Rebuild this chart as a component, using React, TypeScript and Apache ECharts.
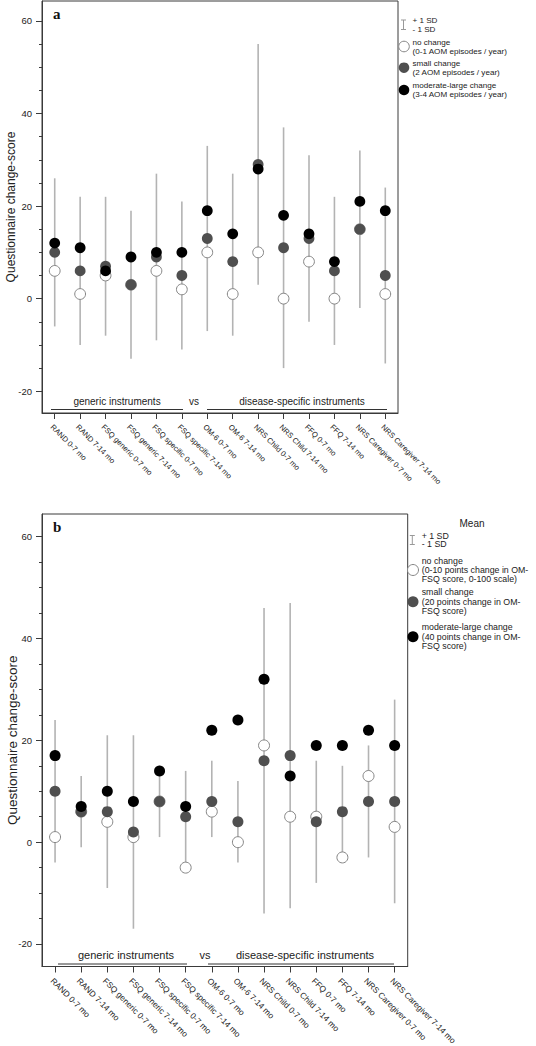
import React, { useEffect, useRef } from "react";
import * as echarts from "echarts";

const categories = [
  "RAND 0-7 mo",
  "RAND 7-14 mo",
  "FSQ generic 0-7 mo",
  "FSQ generic 7-14 mo",
  "FSQ specific 0-7 mo",
  "FSQ specific 7-14 mo",
  "OM-6 0-7 mo",
  "OM-6 7-14 mo",
  "NRS Child 0-7 mo",
  "NRS Child 7-14 mo",
  "FFQ 0-7 mo",
  "FFQ 7-14 mo",
  "NRS Caregiver 0-7 mo",
  "NRS Caregiver 7-14 mo",
];

const majorTicks = [-20, 0, 20, 40, 60];
const minorTicks = [-15, -10, -5, 5, 10, 15, 25, 30, 35, 45, 50, 55];

// Panel a
const noChangeA = [6, 1, 5, 3, 6, 2, 10, 1, 10, 0, 8, 0, 15, 1];
const smallA = [10, 6, 7, 3, 9, 5, 13, 8, 29, 11, 13, 6, 15, 5];
const largeA = [12, 11, 6, 9, 10, 10, 19, 14, 28, 18, 14, 8, 21, 19];
const sdHighA = [26, 22, 22, 19, 27, 21, 33, 27, 55, 37, 31, 22, 32, 24];
const sdLowA = [-6, -10, -8, -13, -9, -11, -7, -8, 3, -15, -5, -10, -2, -14];

// Panel b
const noChangeB = [1, 6, 4, 1, 8, -5, 6, 0, 19, 5, 5, -3, 13, 3];
const smallB = [10, 6, 6, 2, 8, 5, 8, 4, 16, 17, 4, 6, 8, 8];
const largeB = [17, 7, 10, 8, 14, 7, 22, 24, 32, 13, 19, 19, 22, 19];
const sdHighB = [24, 13, 21, 21, 15, 14, 16, 12, 46, 47, 16, 15, 19, 28];
const sdLowB = [-4, -1, -9, -17, 1, -4, 1, -4, -14, -13, -8, -3, -3, -12];

const legendA = [
  ["no change", "(0-1 AOM episodes / year)"],
  ["small change", "(2 AOM episodes / year)"],
  ["moderate-large change", "(3-4 AOM episodes / year)"],
];
const legendB = [
  ["no change", "(0-10 points change in OM-", "FSQ score, 0-100 scale)"],
  ["small change", "(20 points change in OM-", "FSQ score)"],
  ["moderate-large change", "(40 points change in OM-", "FSQ score)"],
];

const FONT = "'Liberation Sans', Arial, Helvetica, sans-serif";
const SERIF = "'Liberation Serif', 'DejaVu Serif', serif";
const BAR = "#b3b3b3";
const GRAY = "#4f4f4f";
const AXIS = "#3a3a3a";

function makeAxes(gridIndex: number, min: number, max: number, nameSize: number, nameGap: number, tickFont: number, labelFont: number, labelMargin: number) {
  const x = {
    type: "category",
    gridIndex,
    data: categories,
    boundaryGap: true,
    axisLine: { show: true, onZero: false, lineStyle: { color: AXIS, width: 1 } },
    axisTick: { show: true, alignWithLabel: true, length: 6, lineStyle: { color: AXIS } },
    axisLabel: {
      interval: 0,
      rotate: -45,
      align: "left",
      verticalAlign: "top",
      fontSize: labelFont,
      color: "#222",
      fontFamily: FONT,
      margin: labelMargin,
    },
    splitLine: { show: false },
  };
  const yMajor = {
    type: "value",
    gridIndex,
    min,
    max,
    position: "left",
    name: "Questionnaire change-score",
    nameLocation: "middle",
    nameGap,
    nameMoveOverlap: false,
    nameTextStyle: { fontSize: nameSize, color: "#222", fontFamily: FONT },
    axisLine: { show: true, lineStyle: { color: AXIS, width: 1 } },
    axisTick: { show: true, length: 6, customValues: majorTicks, lineStyle: { color: AXIS } },
    axisLabel: { show: true, customValues: majorTicks, fontSize: tickFont, color: "#222", fontFamily: FONT, margin: 10 },
    splitLine: { show: false },
  };
  const yMinor = {
    type: "value",
    gridIndex,
    min,
    max,
    position: "left",
    axisLine: { show: false },
    axisTick: { show: true, length: 3, customValues: minorTicks, lineStyle: { color: AXIS } },
    axisLabel: { show: false, customValues: minorTicks },
    splitLine: { show: false },
  };
  return { x, yMajor, yMinor };
}

function makeSeries(xAxisIndex: number, yAxisIndex: number, hi: number[], lo: number[], none: number[], small: number[], large: number[], size: number) {
  return [
    {
      type: "custom",
      xAxisIndex,
      yAxisIndex,
      data: categories.map((_, i) => [i, hi[i], lo[i]]),
      encode: { x: 0, y: [1, 2] },
      renderItem: (params: any, api: any) => {
        const xv = api.value(0);
        const p1 = api.coord([xv, api.value(1)]);
        const p2 = api.coord([xv, api.value(2)]);
        return {
          type: "line",
          shape: { x1: p1[0], y1: p1[1], x2: p2[0], y2: p2[1] },
          style: { stroke: BAR, lineWidth: 1.6 },
        };
      },
      z: 1,
    },
    {
      type: "scatter",
      xAxisIndex,
      yAxisIndex,
      data: none,
      symbol: "circle",
      symbolSize: size,
      itemStyle: { color: "#ffffff", borderColor: "#858585", borderWidth: 1, opacity: 1 },
      z: 2,
    },
    {
      type: "scatter",
      xAxisIndex,
      yAxisIndex,
      data: small,
      symbol: "circle",
      symbolSize: size,
      itemStyle: { color: GRAY, opacity: 1 },
      z: 3,
    },
    {
      type: "scatter",
      xAxisIndex,
      yAxisIndex,
      data: large,
      symbol: "circle",
      symbolSize: size,
      itemStyle: { color: "#000000", opacity: 1 },
      z: 4,
    },
  ];
}

function txt(x: number, y: number, text: string, fontSize: number, align = "left", extra: any = {}) {
  return {
    type: "text",
    x,
    y,
    style: {
      text,
      fontSize,
      fontFamily: FONT,
      fill: "#222",
      align,
      verticalAlign: "middle",
      ...extra,
    },
  };
}

function hline(x1: number, x2: number, y: number) {
  return { type: "line", shape: { x1, y1: y, x2, y2: y }, style: { stroke: "#333", lineWidth: 1 } };
}

function sdSymbol(x: number, y1: number, y2: number) {
  return [
    { type: "line", shape: { x1: x, y1, x2: x, y2 }, style: { stroke: "#999", lineWidth: 1 } },
    { type: "line", shape: { x1: x - 2.5, y1, x2: x + 2.5, y2: y1 }, style: { stroke: "#999", lineWidth: 1 } },
    { type: "line", shape: { x1: x - 2.5, y1: y2, x2: x + 2.5, y2 }, style: { stroke: "#999", lineWidth: 1 } },
  ];
}

function dot(cx: number, cy: number, r: number, kind: number) {
  const style =
    kind === 0
      ? { fill: "#fff", stroke: "#858585", lineWidth: 1 }
      : kind === 1
      ? { fill: GRAY }
      : { fill: "#000" };
  return { type: "circle", shape: { cx, cy, r }, style };
}

export default function App() {
  const ref = useRef<HTMLDivElement>(null);
  useEffect(() => {
    if (!ref.current) return;
    const chart = echarts.init(ref.current, null, { renderer: "svg" });
    const a = makeAxes(0, -24.7, 64.3, 12, 25, 9.5, 7.6, 10);
    const b = makeAxes(1, -24.42, 64.46, 13.5, 23, 9.5, 8.3, 10);

    const graphics: any[] = [];
    // Panel a annotations
    graphics.push({ type: "text", x: 53, y: 14, style: { text: "a", fontSize: 15, fontWeight: "bold", fontFamily: SERIF, fill: "#111", verticalAlign: "middle" } });
    graphics.push(txt(117, 401, "generic instruments", 10, "center"));
    graphics.push(txt(194, 401, "vs", 10, "center"));
    graphics.push(txt(302, 401, "disease-specific instruments", 10, "center"));
    graphics.push(hline(51, 183, 409.5));
    graphics.push(hline(207, 387, 409.5));
    // Legend a
    graphics.push(...sdSymbol(403.5, 20, 29.5));
    graphics.push(txt(412.5, 20, "+ 1 SD", 8.1));
    graphics.push(txt(412.5, 29.3, "- 1 SD", 8.1));
    const legACy = [46.5, 67.7, 90];
    legendA.forEach((lines, k) => {
      graphics.push(dot(404, legACy[k], 5.3, k));
      graphics.push(txt(412.5, legACy[k] - 4.3, lines[0], 8.1));
      graphics.push(txt(412.5, legACy[k] + 4.6, lines[1], 8.1));
    });

    // Panel b annotations
    graphics.push({ type: "text", x: 53, y: 527, style: { text: "b", fontSize: 15, fontWeight: "bold", fontFamily: SERIF, fill: "#111", verticalAlign: "middle" } });
    graphics.push(txt(126, 955, "generic instruments", 11, "center"));
    graphics.push(txt(205, 955, "vs", 11, "center"));
    graphics.push(txt(305, 955, "disease-specific instruments", 11, "center"));
    graphics.push(hline(58, 187, 964));
    graphics.push(hline(208, 394, 964));
    // Legend b
    graphics.push(txt(472, 523, "Mean", 10, "center"));
    graphics.push(...sdSymbol(412.3, 535.5, 544.5));
    graphics.push(txt(421.7, 535.7, "+ 1 SD", 8.8));
    graphics.push(txt(421.7, 544.3, "- 1 SD", 8.8));
    const legBCy = [570, 601.7, 636.7];
    legendB.forEach((lines, k) => {
      graphics.push(dot(413, legBCy[k], 5.5, k));
      graphics.push(txt(421.7, legBCy[k] - 9.4, lines[0], 8.8));
      graphics.push(txt(421.7, legBCy[k], lines[1], 8.8));
      graphics.push(txt(421.7, legBCy[k] + 9.4, lines[2], 8.8));
    });

    chart.setOption({
      animation: false,
      backgroundColor: "#fff",
      textStyle: { fontFamily: FONT },
      grid: [
        { left: 42, top: 1, width: 356, height: 412, show: true, borderColor: AXIS, borderWidth: 1, backgroundColor: "transparent", containLabel: false, outerBoundsMode: "none" },
        { left: 42, top: 514, width: 365.7, height: 452.5, show: true, borderColor: AXIS, borderWidth: 1, backgroundColor: "transparent", containLabel: false, outerBoundsMode: "none" },
      ],
      xAxis: [a.x, b.x],
      yAxis: [a.yMajor, a.yMinor, b.yMajor, b.yMinor],
      series: [
        ...makeSeries(0, 0, sdHighA, sdLowA, noChangeA, smallA, largeA, 10.8),
        ...makeSeries(1, 2, sdHighB, sdLowB, noChangeB, smallB, largeB, 11),
      ],
      graphic: graphics,
    });
    return () => chart.dispose();
  }, []);
  return (
    <div
      ref={ref}
      style={{ position: "absolute", left: 0, top: 0, width: 536, height: 1046, background: "#fff" }}
    />
  );
}
